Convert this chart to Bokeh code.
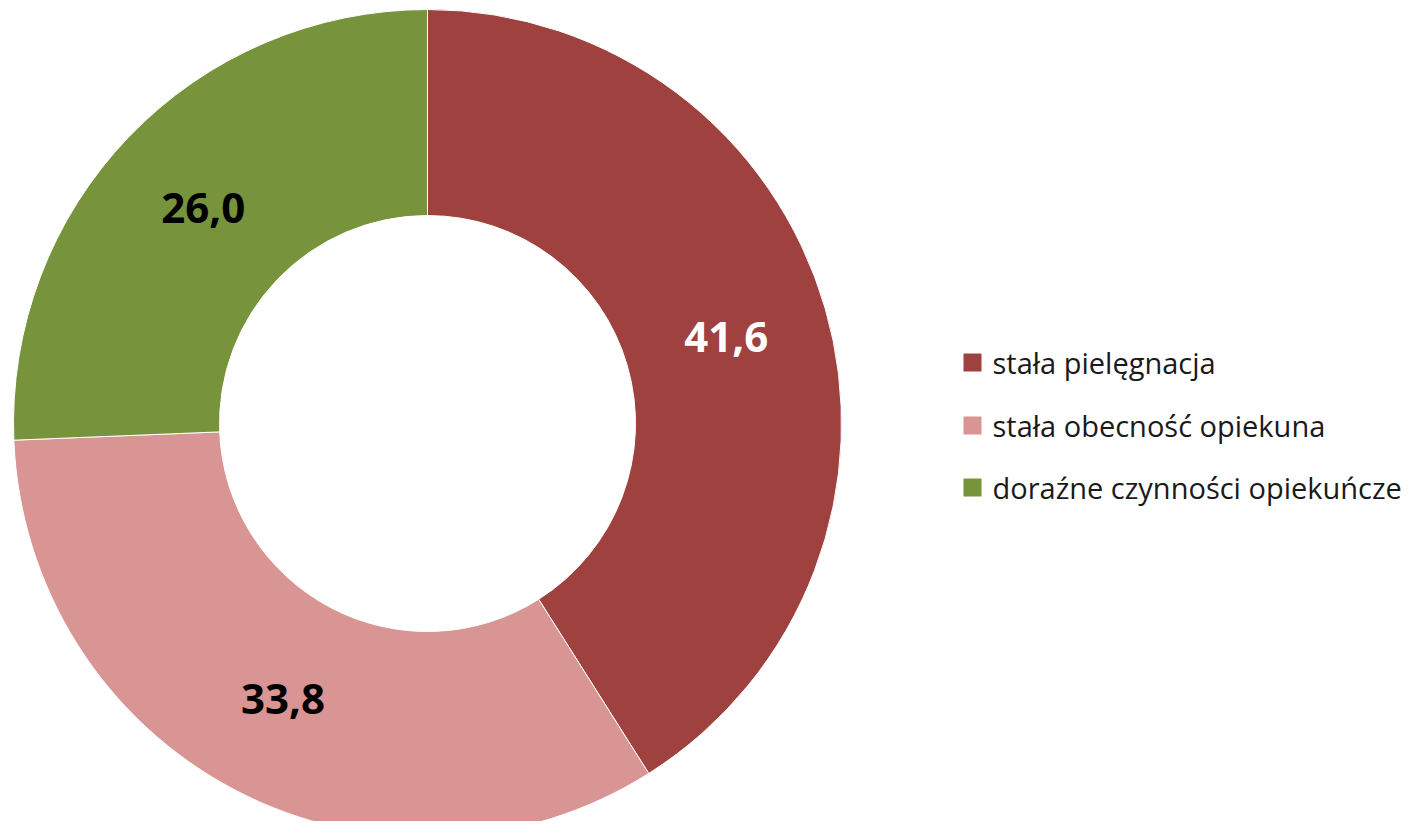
import numpy as np
from bokeh.plotting import figure
from bokeh.models import Range1d, ColumnDataSource
from bokeh.core.properties import value
from bokeh.embed import file_html
from bokeh.resources import INLINE

categories = ["stała pielęgnacja", "stała obecność opiekuna", "doraźne czynności opiekuńcze"]
values = [41.6, 33.8, 26.0]
labels = ["41,6", "33,8", "26,0"]
colors = ["#9E413F", "#D99594", "#77933C"]
label_colors = ["white", "black", "black"]

W, H = 1406, 821
PAGE_H = 837
p = figure(width=W, height=H, output_backend="svg", toolbar_location=None,
           x_range=Range1d(0, W), y_range=Range1d(PAGE_H - H, PAGE_H),
           min_border=0, outline_line_color=None)
p.axis.visible = False
p.grid.visible = False
p.background_fill_color = "white"

cx, cy = 427, PAGE_H - 423
r_out, r_in = 414, 208

vals = np.array(values)
frac = vals / vals.sum()
cum = np.concatenate([[0], np.cumsum(frac)])
start = np.pi / 2 - cum[:-1] * 2 * np.pi
end = np.pi / 2 - cum[1:] * 2 * np.pi
mid = (start + end) / 2
rm = (r_out + r_in) / 2

src = ColumnDataSource(dict(start=start, end=end, color=colors, cat=categories,
                            lx=cx + rm * np.cos(mid), ly=cy + rm * np.sin(mid),
                            label=labels, lcolor=label_colors))

p.annular_wedge(x=cx, y=cy, inner_radius=r_in, outer_radius=r_out,
                start_angle="start", end_angle="end", direction="clock",
                fill_color="color", line_color="white", line_width=1, source=src)

p.text(x="lx", y="ly", text="label", text_color="lcolor", source=src,
       text_font=value("Open Sans"), text_font_size="42px", text_font_style="bold",
       text_align="center", text_baseline="middle")

# legend
leg_y = [PAGE_H - 362, PAGE_H - 425, PAGE_H - 487]
lsrc = ColumnDataSource(dict(x=[972] * 3, y=leg_y, tx=[992] * 3, cat=categories, color=colors))
p.rect(x="x", y="y", width=18, height=18, fill_color="color", line_color=None, source=lsrc)
p.text(x="tx", y="y", text="cat", source=lsrc, text_color="#1a1a1a",
       text_font=value("Open Sans"), text_font_size="29px",
       text_align="left", text_baseline="middle")

open("out.html", "w").write(file_html(p, INLINE))
